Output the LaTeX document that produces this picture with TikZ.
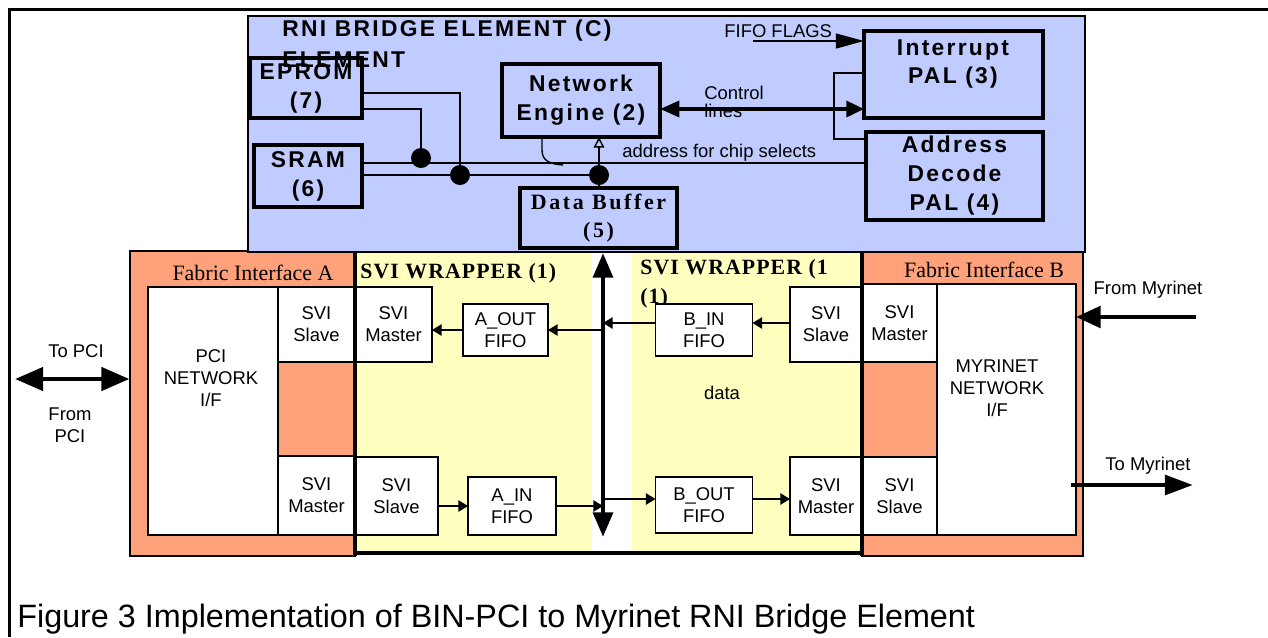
\documentclass[tikz,border=0pt]{standalone}
\usepackage{fontspec}
\setmainfont{Liberation Sans}
\newfontfamily\spsans[LetterSpace=10]{Liberation Sans}
\newfontfamily\spserif[LetterSpace=12]{Liberation Serif}
\newfontfamily\wrapserif[LetterSpace=5]{Liberation Serif}
\newfontfamily\plainserif{Liberation Serif}
\usetikzlibrary{arrows.meta}
\definecolor{rniblue}{RGB}{192,204,255}
\definecolor{fabric}{RGB}{255,161,122}
\definecolor{wrapper}{RGB}{255,255,192}
\tikzset{
  >=Triangle,
  sz/.style 2 args = {minimum width=#1*0.02cm, minimum height=#2*0.02cm},
  blk/.style = {draw, line width=2.3pt, inner sep=0pt, outer sep=0pt, align=center,
    font=\spsans\bfseries\fontsize{13}{16.5}\selectfont},
  svi/.style = {draw, fill=white, line width=0.8pt, inner sep=0pt, outer sep=0pt,
    align=center, font=\fontsize{10.5}{12.5}\selectfont},
  lbl/.style = {inner sep=0pt, align=center, font=\fontsize{10.5}{12.5}\selectfont},
  jn/.style = {circle, fill, inner sep=0pt, minimum size=0.4cm},
  wire/.style = {line width=0.8pt},
  flow/.style = {wire, -{Triangle[length=5.5pt,width=6.5pt]}},
  fat/.style = {line width=2.8pt},
}
\begin{document}
\begin{tikzpicture}[x=0.02cm, y=-0.02cm]
  \useasboundingbox (0,0) rectangle (1268,637);
  % frame
  \draw[line width=1.7pt] (9.5,637) -- (9.5,9.5) -- (1268,9.5);

  % fabric interfaces and wrappers
  \node[draw, fill=fabric, line width=0.6pt, sz={225}{305}] (fabA) at (242.5,403.5) {};
  \node[draw, fill=fabric, line width=0.6pt, sz={221}{305}] (fabB) at (972.5,403.5) {};
  \fill[wrapper] (355,252) rectangle (592,553);
  \fill[wrapper] (632,252) rectangle (862,553);
  \node[font=\plainserif\fontsize{12.5}{12.5}\selectfont] (fabAlbl) at (253,273) {Fabric Interface A};
  \node[font=\plainserif\fontsize{12.5}{12.5}\selectfont] (fabBlbl) at (984,270) {Fabric Interface B};
  \node[anchor=west, inner sep=0pt, font=\wrapserif\bfseries\fontsize{12.4}{15.5}\selectfont] (wrapA) at (360,273) {SVI WRAPPER (1)};
  \node[anchor=north west, inner sep=0pt, align=left, font=\wrapserif\bfseries\fontsize{12.4}{16.5}\selectfont] (wrapB) at (640,259) {SVI WRAPPER (1\\(1)};

  % RNI bridge element
  \node[draw, fill=rniblue, line width=1.2pt, sz={837}{236}] (rni) at (666.5,134) {};
  \node[blk, sz={112}{60}] (eprom) at (306,88) {EPROM\\(7)};
  \node[blk, sz={108}{62}] (sram) at (308,176) {SRAM\\(6)};
  \node[blk, sz={158}{73}] (engine) at (581,100.5) {Network\\Engine (2)};
  \node[blk, sz={157}{60}, font=\spserif\bfseries\fontsize{12.5}{16}\selectfont] (databuf) at (598.5,218) {Data Buffer\\(5)};
  \node[blk, line width=1.8pt, sz={179}{87}] (intpal) at (953.5,74.5) {};
  \node[blk, draw=none] (inttxt) at (953,64) {Interrupt\\PAL (3)};
  \node[blk, line width=1.8pt, sz={177}{88}] (addrpal) at (954.5,176) {Address\\Decode\\PAL (4)};
  \node[anchor=west, inner sep=0pt, font=\spsans\bfseries\fontsize{13}{13}\selectfont] (title) at (282,31) {RNI BRIDGE ELEMENT (C)};
  \node[anchor=west, inner sep=0pt, font=\spsans\bfseries\fontsize{13}{13}\selectfont] (title2) at (282,60) {ELEMENT};

  % junctions and wires
  \node[jn] (j1) at (421,158) {};
  \node[jn] (j2) at (460,175) {};
  \node[jn] (j3) at (599,175) {};
  \draw[wire] (eprom.east |- 0,93) -| (j2);
  \draw[wire] (eprom.east |- 0,109) -| (j1);
  \draw[wire] (sram.east |- 0,163) -- (addrpal.west |- 0,163);
  \draw[wire] (sram.east |- j2) -- (j3);
  \draw[wire] (j3) -- (databuf.north -| j3);
  \draw[wire, -{Triangle[open,length=6pt,width=6pt]}] (j3) -- (engine.south -| j3);
  \draw[wire] (engine.south -| 542,0) -- (542,150) .. controls (542,161) and (550,164) .. (563,165);
  \node[anchor=west, lbl] (addrlbl) at (622,153) {address for chip selects};

  % control lines and flags
  \draw[line width=2.2pt, {Triangle[length=11pt,width=9pt]}-{Triangle[length=10pt,width=9pt]}]
    (engine.east |- 0,109) -- (intpal.west |- 0,109);
  \node[anchor=west, lbl, align=left, font=\fontsize{10.5}{10}\selectfont] (ctl) at (704,102) {Control\\lines};
  \node[anchor=west, lbl] (flags) at (724,31) {FIFO FLAGS};
  \coordinate (flagsin) at (753,41);
  \draw[wire, -{Triangle[length=16pt,width=8.5pt]}] (flagsin) -- (intpal.west |- flagsin);
  \draw[wire] (intpal.west |- 0,73) -| (834,139) -- (addrpal.west |- 0,139);

  % fabric A
  \node[svi, sz={130}{248}] (pcinet) at (213,411) {};
  \node[lbl] (pcitxt) at (211,378) {PCI\\NETWORK\\I/F};
  \node[svi, sz={77}{75}] (aslv) at (316.5,324.5) {SVI\\Slave};
  \node[svi, sz={77}{79}] (amst) at (316.5,495.5) {SVI\\Master};
  % wrapper A
  \node[svi, sz={77}{75}] (wmst) at (393.5,324.5) {SVI\\Master};
  \node[svi, sz={83}{78}] (wslv) at (396.5,496) {SVI\\Slave};
  \node[svi, sz={85}{52}] (aout) at (505.5,330) {A\_OUT\\FIFO};
  \node[svi, sz={88}{58}] (ain) at (512,506) {A\_IN\\FIFO};
  % wrapper B
  \node[svi, sz={97}{52}] (bin) at (704,330) {B\_IN\\FIFO};
  \node[svi, sz={97}{56}] (bout) at (704,505) {B\_OUT\\FIFO};
  \node[svi, sz={72}{75}] (bslv) at (826,324.5) {SVI\\Slave};
  \node[svi, sz={72}{78}] (bmst) at (826,496) {SVI\\Master};
  \node[lbl] (datalbl) at (722,393) {data};
  % fabric B
  \node[svi, sz={75}{78}] (fbmst) at (899.5,323) {SVI\\Master};
  \node[svi, sz={75}{78}] (fbslv) at (899.5,496) {SVI\\Slave};
  \node[svi, sz={139}{251}] (myrnet) at (1006.5,409.5) {};
  \node[lbl] (myrtxt) at (997,388) {MYRINET\\NETWORK\\I/F};

  % wrapper edges
  \draw[line width=2.3pt] (355,252) -- (355,556);
  \draw[line width=2.3pt] (862,252) -- (862,556);
  \draw[line width=2.3pt] (355,553) -- (862,553);

  % data bus
  \coordinate (bustop) at (603,253);
  \coordinate (busbot) at (603,537);
  \draw[fat, {Triangle[length=14pt,width=11pt]}-{Triangle[length=14pt,width=11pt]}] (bustop) -- (busbot);
  \draw[flow] (bustop |- aout) -- (aout.east);
  \draw[flow] (aout.west) -- (aout.west -| wmst.east);
  \draw[flow] (wslv.east |- ain) -- (ain.west);
  \draw[flow] (ain.east) -- (ain.east -| bustop);
  \draw[flow] (bslv.west |- 0,323) -- (bin.east |- 0,323);
  \draw[flow] (bin.west |- 0,323) -- (bustop |- 0,323);
  \draw[flow] (bustop |- 0,499) -- (bout.west |- 0,499);
  \draw[flow] (bout.east |- 0,499) -- (bmst.west |- 0,499);

  % outside connections
  \coordinate (pcil) at (15,379);
  \draw[fat, {Triangle[length=16pt,width=13pt]}-{Triangle[length=16pt,width=13pt]}] (pcil) -- (pcil -| fabA.west);
  \node[lbl] (topci) at (76,351) {To PCI};
  \node[lbl] (frompci) at (70,425) {From\\PCI};
  \coordinate (myrin) at (1196,317);
  \coordinate (myrout) at (1193,485);
  \draw[fat, -{Triangle[length=14pt,width=12pt]}] (myrin) -- (myrin -| myrnet.east);
  \draw[fat, -{Triangle[length=16pt,width=11pt]}] (myrout -| 1071,0) -- (myrout);
  \node[lbl] (frommyr) at (1148,290) {From Myrinet};
  \node[lbl] (tomyr) at (1148,466) {To Myrinet};

  % caption
  \node[anchor=west, inner sep=0pt, font=\fontsize{18.4}{20}\selectfont] (caption) at (17,619)
    {Figure 3 Implementation of BIN-PCI to Myrinet RNI Bridge Element};
\end{tikzpicture}
\end{document}
